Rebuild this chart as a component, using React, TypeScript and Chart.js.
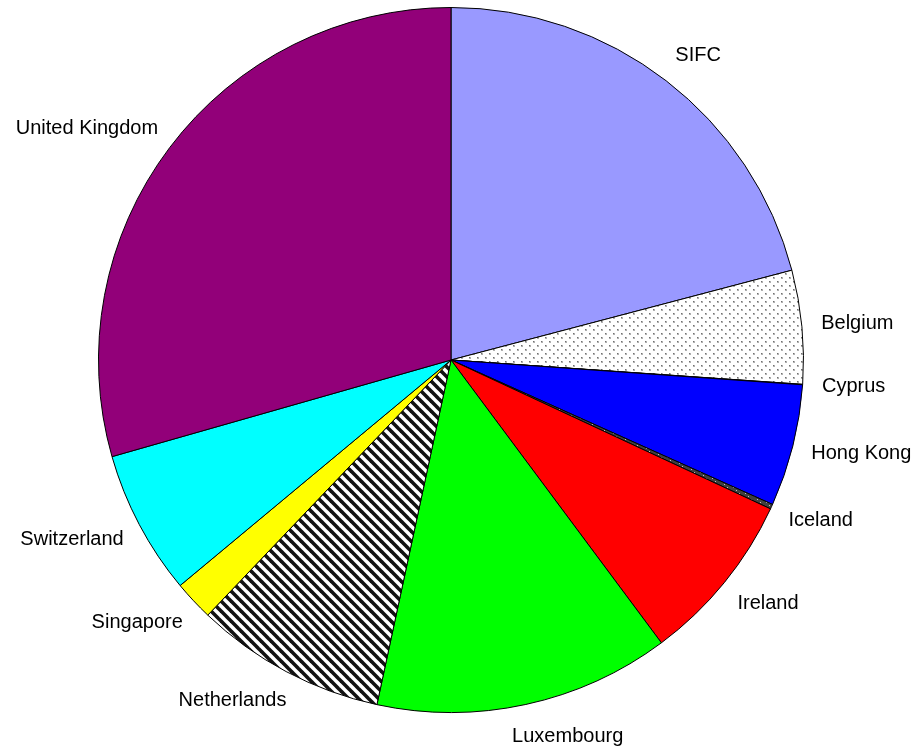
import React, { useEffect, useRef } from "react";
import { Chart, registerables } from "chart.js";

Chart.register(...registerables);

const categories = [
  "SIFC",
  "Belgium",
  "Cyprus",
  "Hong Kong",
  "Iceland",
  "Ireland",
  "Luxembourg",
  "Netherlands",
  "Singapore",
  "Switzerland",
  "United Kingdom",
];

const shares = [20.9, 5.2, 0.02, 5.6, 0.22, 7.88, 13.55, 8.75, 1.83, 6.63, 29.42];

const fills = [
  "#9999FF",
  "dots",
  "#FFFFFF",
  "#0000FF",
  "darkdots",
  "#FF0000",
  "#00FF00",
  "stripes",
  "#FFFF00",
  "#00FFFF",
  "#920079",
];

function makePattern(kind: string): CanvasPattern | string {
  const c = document.createElement("canvas");
  const g = c.getContext("2d");
  if (!g) return "#ffffff";
  if (kind === "dots") {
    c.width = 8;
    c.height = 8;
    g.fillStyle = "#ffffff";
    g.fillRect(0, 0, 8, 8);
    g.fillStyle = "#b0b0b0";
    g.fillRect(1, 1, 2, 2);
    g.fillRect(5, 5, 2, 2);
    g.fillStyle = "#707070";
    g.fillRect(1, 1, 1, 1);
    g.fillRect(5, 5, 1, 1);
  } else if (kind === "darkdots") {
    c.width = 6;
    c.height = 6;
    g.fillStyle = "#404040";
    g.fillRect(0, 0, 6, 6);
    g.fillStyle = "#c0c0c0";
    g.fillRect(1, 1, 1, 1);
    g.fillRect(4, 4, 1, 1);
  } else if (kind === "stripes") {
    const p = 10;
    c.width = p;
    c.height = p;
    g.fillStyle = "#ffffff";
    g.fillRect(0, 0, p, p);
    g.strokeStyle = "#111111";
    g.lineWidth = 3.6;
    for (let k = -p; k <= 2 * p; k += p) {
      g.beginPath();
      g.moveTo(k - p, -p);
      g.lineTo(k + 2 * p, 2 * p);
      g.stroke();
    }
  } else {
    return kind;
  }
  const pat = g.createPattern(c, "repeat");
  return pat || "#ffffff";
}

const labelPlugin = {
  id: "outerLabels",
  afterDraw(chart: any) {
    const ctx = chart.ctx;
    const meta = chart.getDatasetMeta(0);
    ctx.save();
    ctx.font = '20px "Liberation Sans", Arial, sans-serif';
    ctx.fillStyle = "#000000";
    ctx.textAlign = "center";
    ctx.textBaseline = "middle";
    const h = 26;
    meta.data.forEach((arc: any, i: number) => {
      const { x, y, startAngle, endAngle, outerRadius } = arc.getProps(
        ["x", "y", "startAngle", "endAngle", "outerRadius"],
        true
      );
      const mid = (startAngle + endAngle) / 2;
      const dx = Math.cos(mid);
      const dy = Math.sin(mid);
      const r = outerRadius * 1.055;
      const ax = x + dx * r;
      const ay = y + dy * r;
      const label = chart.data.labels[i];
      const w = ctx.measureText(label).width;
      const kx = Math.sign(dx) * Math.pow(Math.abs(dx), 0.25);
      const cx = ax + (kx * w) / 2;
      const cy = ay + (dy * h) / 2;
      ctx.fillText(label, cx, cy);
    });
    ctx.restore();
  },
};

export default function App() {
  const ref = useRef<HTMLCanvasElement | null>(null);

  useEffect(() => {
    if (!ref.current) return;
    const bg = fills.map((f) => makePattern(f));
    const chart = new Chart(ref.current, {
      type: "pie",
      data: {
        labels: categories,
        datasets: [
          {
            data: shares,
            backgroundColor: bg as any,
            borderColor: "#000000",
            borderWidth: 1,
            borderAlign: "center",
          },
        ],
      },
      options: {
        responsive: false,
        animation: false,
        layout: { padding: { left: 98, right: 109, top: 7, bottom: 36 } },
        plugins: {
          legend: { display: false },
          tooltip: { enabled: false },
        },
      },
      plugins: [labelPlugin],
    });
    return () => chart.destroy();
  }, []);

  return (
    <div style={{ position: "fixed", left: 0, top: 0, width: 913, height: 749, background: "#fff" }}>
      <canvas ref={ref} width={913} height={749} style={{ display: "block" }} />
    </div>
  );
}
